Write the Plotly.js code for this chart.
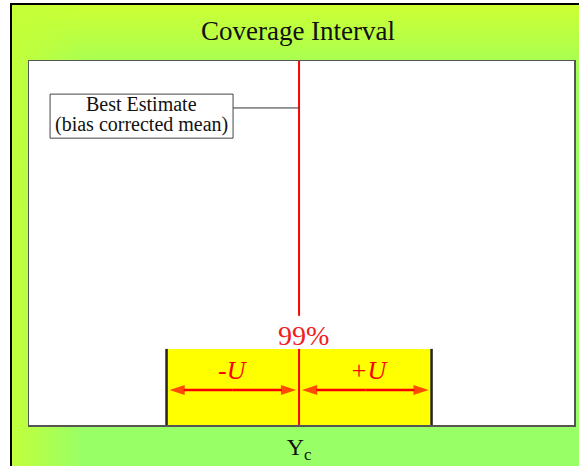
<!DOCTYPE html>
<html>
<head>
<meta charset="utf-8">
<script src="https://cdn.plot.ly/plotly-3.0.1.min.js"></script>
<style>
html,body{margin:0;padding:0;background:#ffffff;overflow:hidden;}
#frame{position:absolute;left:10px;top:3px;width:569px;height:463px;box-sizing:border-box;
 border-left:2px solid #000;border-top:2px solid #000;
 background:
  linear-gradient(to right, rgba(196,255,56,0.95) 0px, rgba(196,255,56,0) 70px),
  linear-gradient(to bottom, #CCFF33 0px, #B4FF48 40px, #A0FF5C 70px, #99FF66 200px, #99FF66 100%);}
#chart{position:absolute;left:0;top:0;width:579px;height:466px;}
</style>
</head>
<body>
<div id="frame"></div>
<div id="chart"></div>
<script>
// ---- chart values ----
const bestEstimate = [0];            // Yc (bias corrected mean)
const expandedU = [-1, 1];           // -U , +U around the estimate
const intervalLabels = ['-U', '+U'];
const coverageLabel = ['99%'];
const centerTickLabel = ['Y<sub>c</sub>'];
const noteLines = ['Best Estimate', '(bias corrected mean)'];
const chartTitle = ['Coverage Interval'];

// ---- layout helpers (positions / styles) ----
const RED = '#ff0000';
const SERIF = 'Liberation Serif, Times New Roman, serif';
const boxTop = 0.209;       // top of yellow region (fraction of plot height)
const lineGapTop = 0.30;    // red line resumes above the 99% label
const arrowY = 0.096;
const arrowGap = 0.022;     // arrow tips stop just short of the lines
const noteBox = {x0: -1.879, x1: -0.498, y0: 0.788, y1: 0.909};
const noteLineY = 0.871;
const noteTextY = [0.882, 0.826];

const c = bestEstimate[0];
const lo = c + expandedU[0];
const hi = c + expandedU[1];

const traces = [
  { // yellow coverage region
    x: [lo, lo, hi, hi, lo], y: [0, boxTop, boxTop, 0, 0],
    mode: 'lines', fill: 'toself', fillcolor: '#FFFF00',
    line: {width: 0, color: '#FFFF00'}, hoverinfo: 'skip', showlegend: false
  },
  { // black interval bounds
    x: [lo, lo, null, hi, hi], y: [0, boxTop, null, 0, boxTop],
    mode: 'lines', line: {color: '#222222', width: 2.5},
    hoverinfo: 'skip', showlegend: false
  },
  { // red best-estimate line
    x: [c, c, null, c, c], y: [0, boxTop, null, lineGapTop, 1],
    mode: 'lines', line: {color: RED, width: 2},
    hoverinfo: 'skip', showlegend: false
  },
  { // connector from note box to estimate line
    x: [noteBox.x1, c], y: [noteLineY, noteLineY],
    mode: 'lines', line: {color: '#333333', width: 1},
    hoverinfo: 'skip', showlegend: false
  }
];

// double-headed arrows: each half drawn from the middle outward with an arrow marker at its tip
[[lo, c], [c, hi]].forEach(function (seg) {
  const mid = (seg[0] + seg[1]) / 2;
  [seg[0] + arrowGap, seg[1] - arrowGap].forEach(function (tip) {
    traces.push({
      x: [mid, tip], y: [arrowY, arrowY], mode: 'lines+markers',
      line: {color: RED, width: 2.5},
      marker: {symbol: 'arrow', angleref: 'previous', size: [0, 16], color: RED,
               line: {width: 0}},
      hoverinfo: 'skip', showlegend: false, cliponaxis: false
    });
  });
});

const annotations = [
  // -U / +U labels
  {x: (lo + c) / 2, y: 0.151, xref: 'x', yref: 'y', showarrow: false,
   text: '<i>' + intervalLabels[0] + '</i>', font: {family: SERIF, size: 26, color: RED}},
  {x: (hi + c) / 2 + 0.03, y: 0.151, xref: 'x', yref: 'y', showarrow: false,
   text: '<i>' + intervalLabels[1] + '</i>', font: {family: SERIF, size: 26, color: RED}},
  // coverage level
  {x: c, y: 0.247, xref: 'x', yref: 'y', xshift: 4, showarrow: false,
   text: coverageLabel[0], font: {family: SERIF, size: 28, color: '#f02020'}},
  // note text lines
  {x: (noteBox.x0 + noteBox.x1) / 2, y: noteTextY[0], xref: 'x', yref: 'y', showarrow: false,
   text: noteLines[0], font: {family: SERIF, size: 20, color: '#111111'}},
  {x: (noteBox.x0 + noteBox.x1) / 2, y: noteTextY[1], xref: 'x', yref: 'y', showarrow: false,
   text: noteLines[1], font: {family: SERIF, size: 20, color: '#111111'}}
];

const shapes = [
  {type: 'rect', xref: 'x', yref: 'y', x0: noteBox.x0, x1: noteBox.x1, y0: noteBox.y0, y1: noteBox.y1,
   fillcolor: '#ffffff', line: {color: '#444444', width: 1}, layer: 'above'}
];

const layout = {
  width: 579, height: 466,
  margin: {l: 29, r: 5, t: 61, b: 41, pad: 0},
  paper_bgcolor: 'rgba(0,0,0,0)',
  plot_bgcolor: '#ffffff',
  showlegend: false,
  title: {text: chartTitle[0], xref: 'container', yref: 'container',
          x: 298 / 579, xanchor: 'center', y: 1 - 31 / 466, yanchor: 'middle',
          font: {family: SERIF, size: 27, color: '#111111'}},
  xaxis: {range: [-2.038, 2.075], fixedrange: true,
          tickvals: bestEstimate, ticktext: centerTickLabel,
          tickfont: {family: SERIF, size: 24, color: '#111111'},
          ticks: '', showgrid: false, zeroline: false,
          showline: true, mirror: true, linecolor: '#555555', linewidth: 1.5},
  yaxis: {range: [0, 1], fixedrange: true, showticklabels: false, ticks: '',
          showgrid: false, zeroline: false,
          showline: true, mirror: true, linecolor: '#555555', linewidth: 1.5},
  shapes: shapes,
  annotations: annotations
};

Plotly.newPlot('chart', traces, layout, {displayModeBar: false, staticPlot: true});
</script>
</body>
</html>
